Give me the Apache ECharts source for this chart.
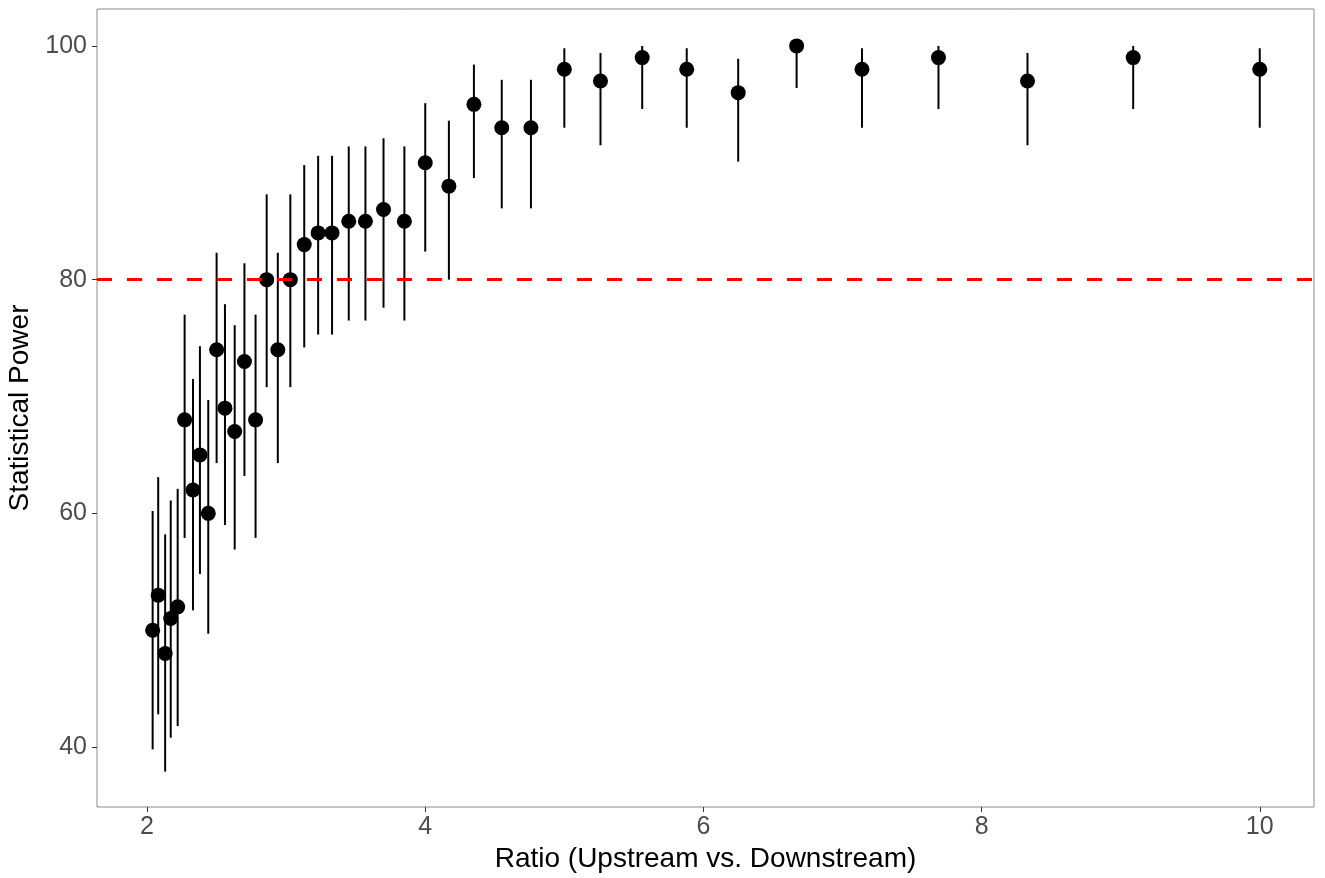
<!DOCTYPE html>
<html>
<head>
<meta charset="utf-8">
<script src="https://cdn.jsdelivr.net/npm/echarts@6/dist/echarts.min.js"></script>
<style>
html,body{margin:0;padding:0;background:#fff;overflow:hidden;}
#chart{width:1325px;height:878px;}
</style>
</head>
<body>
<div id="chart"></div>
<script>
const ratio = [2.04,2.08,2.13,2.17,2.22,2.27,2.33,2.38,2.44,2.5,2.56,2.63,2.7,2.78,2.86,2.94,3.03,3.13,3.23,3.33,3.45,3.57,3.7,3.85,4,4.17,4.35,4.55,4.76,5,5.26,5.56,5.88,6.25,6.67,7.14,7.69,8.33,9.09,10];
const power = [50,53,48,51,52,68,62,65,60,74,69,67,73,68,80,74,80,83,84,84,85,85,86,85,90,88,95,93,93,98,97,99,98,96,100,98,99,97,99,98];
const lower = [39.8,42.8,37.9,40.8,41.8,57.9,51.7,54.8,49.7,64.3,59.0,56.9,63.2,57.9,70.8,64.3,70.8,74.2,75.3,75.3,76.5,76.5,77.6,76.5,82.4,80.0,88.7,86.1,86.1,93.0,91.5,94.6,93.0,90.1,96.4,93.0,94.6,91.5,94.6,93.0];
const upper = [60.2,63.1,58.2,61.1,62.1,77.0,71.5,74.3,69.7,82.3,77.9,76.1,81.4,77.0,87.3,82.3,87.3,89.8,90.6,90.6,91.4,91.4,92.1,91.4,95.1,93.6,98.4,97.1,97.1,99.8,99.4,100.0,99.8,98.9,100,99.8,100.0,99.4,100.0,99.8];
const xTicks = [2,4,6,8,10];
const yTicks = [40,60,80,100];
const threshold = 80;

const pts = ratio.map((r,i)=>[r,power[i]]);
const bars = ratio.map((r,i)=>[r,lower[i],upper[i]]);

const chart = echarts.init(document.getElementById('chart'));
const font = '"Liberation Sans", Arial, sans-serif';
chart.setOption({
  animation:false,
  backgroundColor:'#fff',
  grid:{left:97,right:11,top:9,bottom:71,show:true,borderColor:'#8a8a8a',borderWidth:1,backgroundColor:'transparent',outerBoundsMode:'none',containLabel:false},
  xAxis:{
    type:'value',min:1.64,max:10.39,
    name:'Ratio (Upstream vs. Downstream)',nameLocation:'middle',nameGap:51,
    nameTextStyle:{color:'#000',fontSize:28,fontFamily:font,verticalAlign:'middle'},
    axisLine:{show:false},
    splitLine:{show:false},
    axisTick:{show:true,inside:false,length:5,lineStyle:{color:'#333',width:1},customValues:xTicks},
    axisLabel:{color:'#4d4d4d',fontSize:25,fontFamily:font,margin:8,customValues:xTicks}
  },
  yAxis:{
    type:'value',min:34.87,max:103.16,
    name:'Statistical Power',nameLocation:'middle',nameGap:74,
    nameTextStyle:{color:'#000',fontSize:28,fontFamily:font,verticalAlign:'middle'},
    axisLine:{show:false},
    splitLine:{show:false},
    axisTick:{show:true,inside:false,length:5,lineStyle:{color:'#333',width:1},customValues:yTicks},
    axisLabel:{color:'#4d4d4d',fontSize:25,fontFamily:font,margin:10,customValues:yTicks}
  },
  series:[
    {
      type:'custom',
      data:bars,
      renderItem:function(params,api){
        const a = api.coord([api.value(0),api.value(1)]);
        const b = api.coord([api.value(0),api.value(2)]);
        return {type:'line',shape:{x1:a[0],y1:a[1],x2:b[0],y2:b[1]},style:{stroke:'#000',lineWidth:2}};
      },
      z:2
    },
    {
      type:'scatter',
      data:pts,
      symbol:'circle',symbolSize:15,
      itemStyle:{color:'#000',opacity:1},
      z:3,
      markLine:{
        silent:true,symbol:['none','none'],
        label:{show:false},
        lineStyle:{color:'#ff0000',width:3,type:[15,15],opacity:1},
        data:[{yAxis:threshold}]
      }
    }
  ]
});
</script>
</body>
</html>
